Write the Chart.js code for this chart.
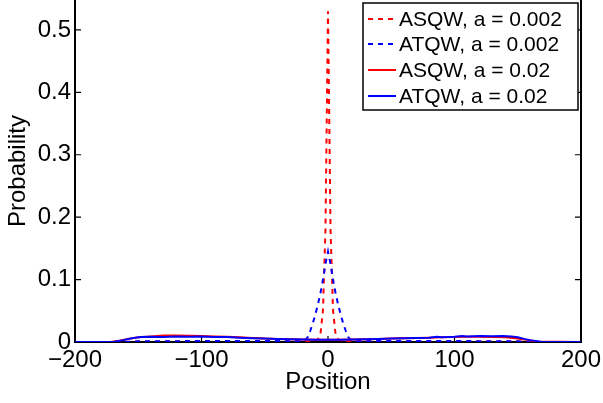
<!DOCTYPE html>
<html>
<head>
<meta charset="utf-8">
<script src="https://cdn.jsdelivr.net/npm/chart.js@4"></script>
<style>
  body { margin: 0; background: #fff; }
  #wrap { width: 603px; height: 403px; position: relative; }
</style>
</head>
<body>
<div id="wrap"><canvas id="walk"></canvas></div>
<script>
// tick labels
var xTicks = [-200, -100, 0, 100, 200];
var yTicks = [0, 0.1, 0.2, 0.3, 0.4, 0.5];

// ASQW, a = 0.002 (red dashed)
var asqwSmallX = [-200, -160, -150, -100, -50, -12, -8, -6, -4, -2, 0, 2, 4, 6, 8, 12, 50, 100, 150, 160, 200];
var asqwSmallY = [0, 0, 0.001, 0.001, 0.001, 0.001, 0.004, 0.012, 0.05, 0.18, 0.53, 0.18, 0.05, 0.012, 0.004, 0.001, 0.001, 0.001, 0.001, 0, 0];

// ATQW, a = 0.002 (blue dashed)
var atqwSmallX = [-200, -160, -150, -100, -50, -24, -20, -18, -16, -14, -12, -10, -8, -6, -4, -2, 0,
                  2, 4, 6, 8, 10, 12, 14, 16, 18, 20, 24, 50, 100, 150, 160, 200];
var atqwSmallY = [0, 0, 0.0012, 0.0015, 0.0015, 0.0015, 0.002, 0.003, 0.008, 0.018, 0.03, 0.044, 0.06, 0.078, 0.1, 0.125, 0.145,
                  0.125, 0.1, 0.078, 0.06, 0.044, 0.03, 0.018, 0.008, 0.003, 0.002, 0.0015, 0.0015, 0.0015, 0.0012, 0, 0];

// ASQW, a = 0.02 (red solid)
var asqwBigX = [-200, -172, -165, -158, -150, -140, -130, -120, -110, -100, -90, -80, -70, -60, -50, -40, -30, -20, -10, 0,
                10, 20, 30, 40, 50, 60, 70, 80, 90, 100, 110, 120, 130, 140, 150, 158, 165, 200];
var asqwBigY = [0, 0, 0.002, 0.005, 0.0075, 0.009, 0.0105, 0.0105, 0.01, 0.0095, 0.009, 0.0085, 0.0075, 0.0065, 0.0055, 0.005, 0.0045, 0.004, 0.0035, 0.0035,
                0.0035, 0.004, 0.0045, 0.005, 0.0055, 0.006, 0.0065, 0.007, 0.0075, 0.008, 0.0085, 0.0085, 0.008, 0.0075, 0.0055, 0.003, 0.001, 0];

// ATQW, a = 0.02 (blue solid)
var atqwBigX = [-200, -170, -162, -155, -148, -140, -130, -120, -110, -100, -90, -80, -70, -60, -50, -40, -30, -20, -10, 0,
                10, 20, 30, 40, 50, 60, 70, 80, 86, 90, 100, 106, 110, 120, 130, 138, 145, 150, 155, 160, 168, 200];
var atqwBigY = [0, 0, 0.003, 0.006, 0.008, 0.0085, 0.0082, 0.009, 0.0085, 0.0088, 0.0082, 0.008, 0.007, 0.0062, 0.0058, 0.005, 0.0045, 0.004, 0.0035, 0.0035,
                0.0035, 0.004, 0.0045, 0.005, 0.0055, 0.006, 0.0065, 0.007, 0.0085, 0.0075, 0.0085, 0.0095, 0.009, 0.0095, 0.0092, 0.0098, 0.009, 0.0075, 0.005, 0.003, 0.0005, 0];

var FONT = "'Liberation Sans', Arial, Helvetica, sans-serif";

function toPoints(xs, ys){
  var pts = [];
  for(var i = 0; i < xs.length; i++){
    pts.push({x: xs[i], y: ys[i]});
  }
  return pts;
}

function lineSet(label, xs, ys, color, dash, order){
  return {
    label: label,
    data: toPoints(xs, ys),
    borderColor: color,
    backgroundColor: color,
    borderWidth: 2,
    borderDash: dash,
    pointRadius: 0,
    tension: 0,
    fill: false,
    order: order
  };
}

// scale boxes are fixed so the plot area lands where the matlab axes are
function fixScale(s, size){
  if(s.isHorizontal()){
    s.height = size;
  } else {
    s.width = size;
  }
  s.paddingTop = 0;
  s.paddingBottom = 0;
  s.paddingLeft = 0;
  s.paddingRight = 0;
}

// box round the plot with inward ticks, like matlab
var framePlugin = {
  id: 'frame',
  beforeDatasetsDraw: function(chart){
    var ctx = chart.ctx, ca = chart.chartArea;
    var xs = chart.scales.x, ys = chart.scales.y;
    ctx.save();
    ctx.strokeStyle = '#000';
    ctx.lineWidth = 2;
    ctx.beginPath();
    ctx.moveTo(ca.left, ca.top);
    ctx.lineTo(ca.left, ca.bottom);
    ctx.lineTo(ca.right, ca.bottom);
    ctx.lineTo(ca.right, ca.top);
    ctx.stroke();
    ctx.lineWidth = 1.2;
    ctx.beginPath();
    yTicks.forEach(function(v){
      var py = ys.getPixelForValue(v);
      ctx.moveTo(ca.left, py); ctx.lineTo(ca.left + 6, py);
      ctx.moveTo(ca.right, py); ctx.lineTo(ca.right - 6, py);
    });
    xTicks.forEach(function(v){
      var px = xs.getPixelForValue(v);
      ctx.moveTo(px, ca.bottom); ctx.lineTo(px, ca.bottom - 6);
    });
    ctx.stroke();
    ctx.restore();
  }
};

// boxed legend in the top right corner
var legendPlugin = {
  id: 'boxLegend',
  afterDatasetsDraw: function(chart){
    var ctx = chart.ctx;
    var bx = 363, by = 3, bw = 215, bh = 107;
    ctx.save();
    ctx.fillStyle = '#fff';
    ctx.fillRect(bx, by, bw, bh);
    ctx.strokeStyle = '#000';
    ctx.lineWidth = 1.5;
    ctx.strokeRect(bx, by, bw, bh);
    var rows = [19, 44, 70, 96];
    ctx.font = '21px ' + FONT;
    ctx.textBaseline = 'middle';
    ctx.textAlign = 'left';
    chart.data.datasets.forEach(function(ds, i){
      var y = rows[i];
      ctx.strokeStyle = ds.borderColor;
      ctx.lineWidth = 2;
      ctx.setLineDash(ds.borderDash);
      ctx.beginPath();
      ctx.moveTo(368, y); ctx.lineTo(396, y);
      ctx.stroke();
      ctx.setLineDash([]);
      ctx.fillStyle = '#000';
      ctx.fillText(ds.label, 399, y + 1);
    });
    ctx.restore();
  }
};

var data = {
  datasets: [
    lineSet('ASQW, a = 0.002', asqwSmallX, asqwSmallY, '#ff0000', [5, 5], 4),
    lineSet('ATQW, a = 0.002', atqwSmallX, atqwSmallY, '#0000ff', [5, 5], 3),
    lineSet('ASQW, a = 0.02', asqwBigX, asqwBigY, '#ff0000', [], 2),
    lineSet('ATQW, a = 0.02', atqwBigX, atqwBigY, '#0000ff', [], 1)
  ]
};

var config = {
  type: 'line',
  data: data,
  options: {
    responsive: true,
    maintainAspectRatio: false,
    animation: false,
    layout: { padding: { top: 0, right: 22, left: 0, bottom: 0 } },
    plugins: { legend: { display: false }, tooltip: { enabled: false } },
    scales: {
      x: {
        type: 'linear',
        min: -200,
        max: 200,
        afterBuildTicks: function(s){ s.ticks = xTicks.map(function(v){ return {value: v}; }); },
        afterFit: function(s){ fixScale(s, 61); },
        grid: { display: false, drawTicks: false },
        border: { display: false },
        ticks: {
          autoSkip: false,
          maxRotation: 0,
          padding: 4,
          color: '#000',
          font: { family: FONT, size: 24 },
          callback: function(v){ return v < 0 ? '\u2212' + Math.abs(v) : String(v); }
        },
        title: {
          display: true,
          text: 'Position',
          color: '#000',
          font: { family: FONT, size: 24 },
          padding: { top: 0, bottom: 6 }
        }
      },
      y: {
        type: 'linear',
        min: 0,
        max: 0.548,
        afterBuildTicks: function(s){ s.ticks = yTicks.map(function(v){ return {value: v}; }); },
        afterFit: function(s){ fixScale(s, 75); },
        grid: { display: false, drawTicks: false },
        border: { display: false },
        ticks: {
          padding: 4,
          color: '#000',
          font: { family: FONT, size: 24 },
          callback: function(v){ return v === 0 ? '0' : v.toFixed(1); }
        },
        title: {
          display: true,
          text: 'Probability',
          color: '#000',
          font: { family: FONT, size: 24 },
          padding: { top: 4, bottom: 0 }
        }
      }
    }
  },
  plugins: [framePlugin, legendPlugin]
};

var walkChart = new Chart(document.getElementById('walk'), config);
</script>
</body>
</html>
